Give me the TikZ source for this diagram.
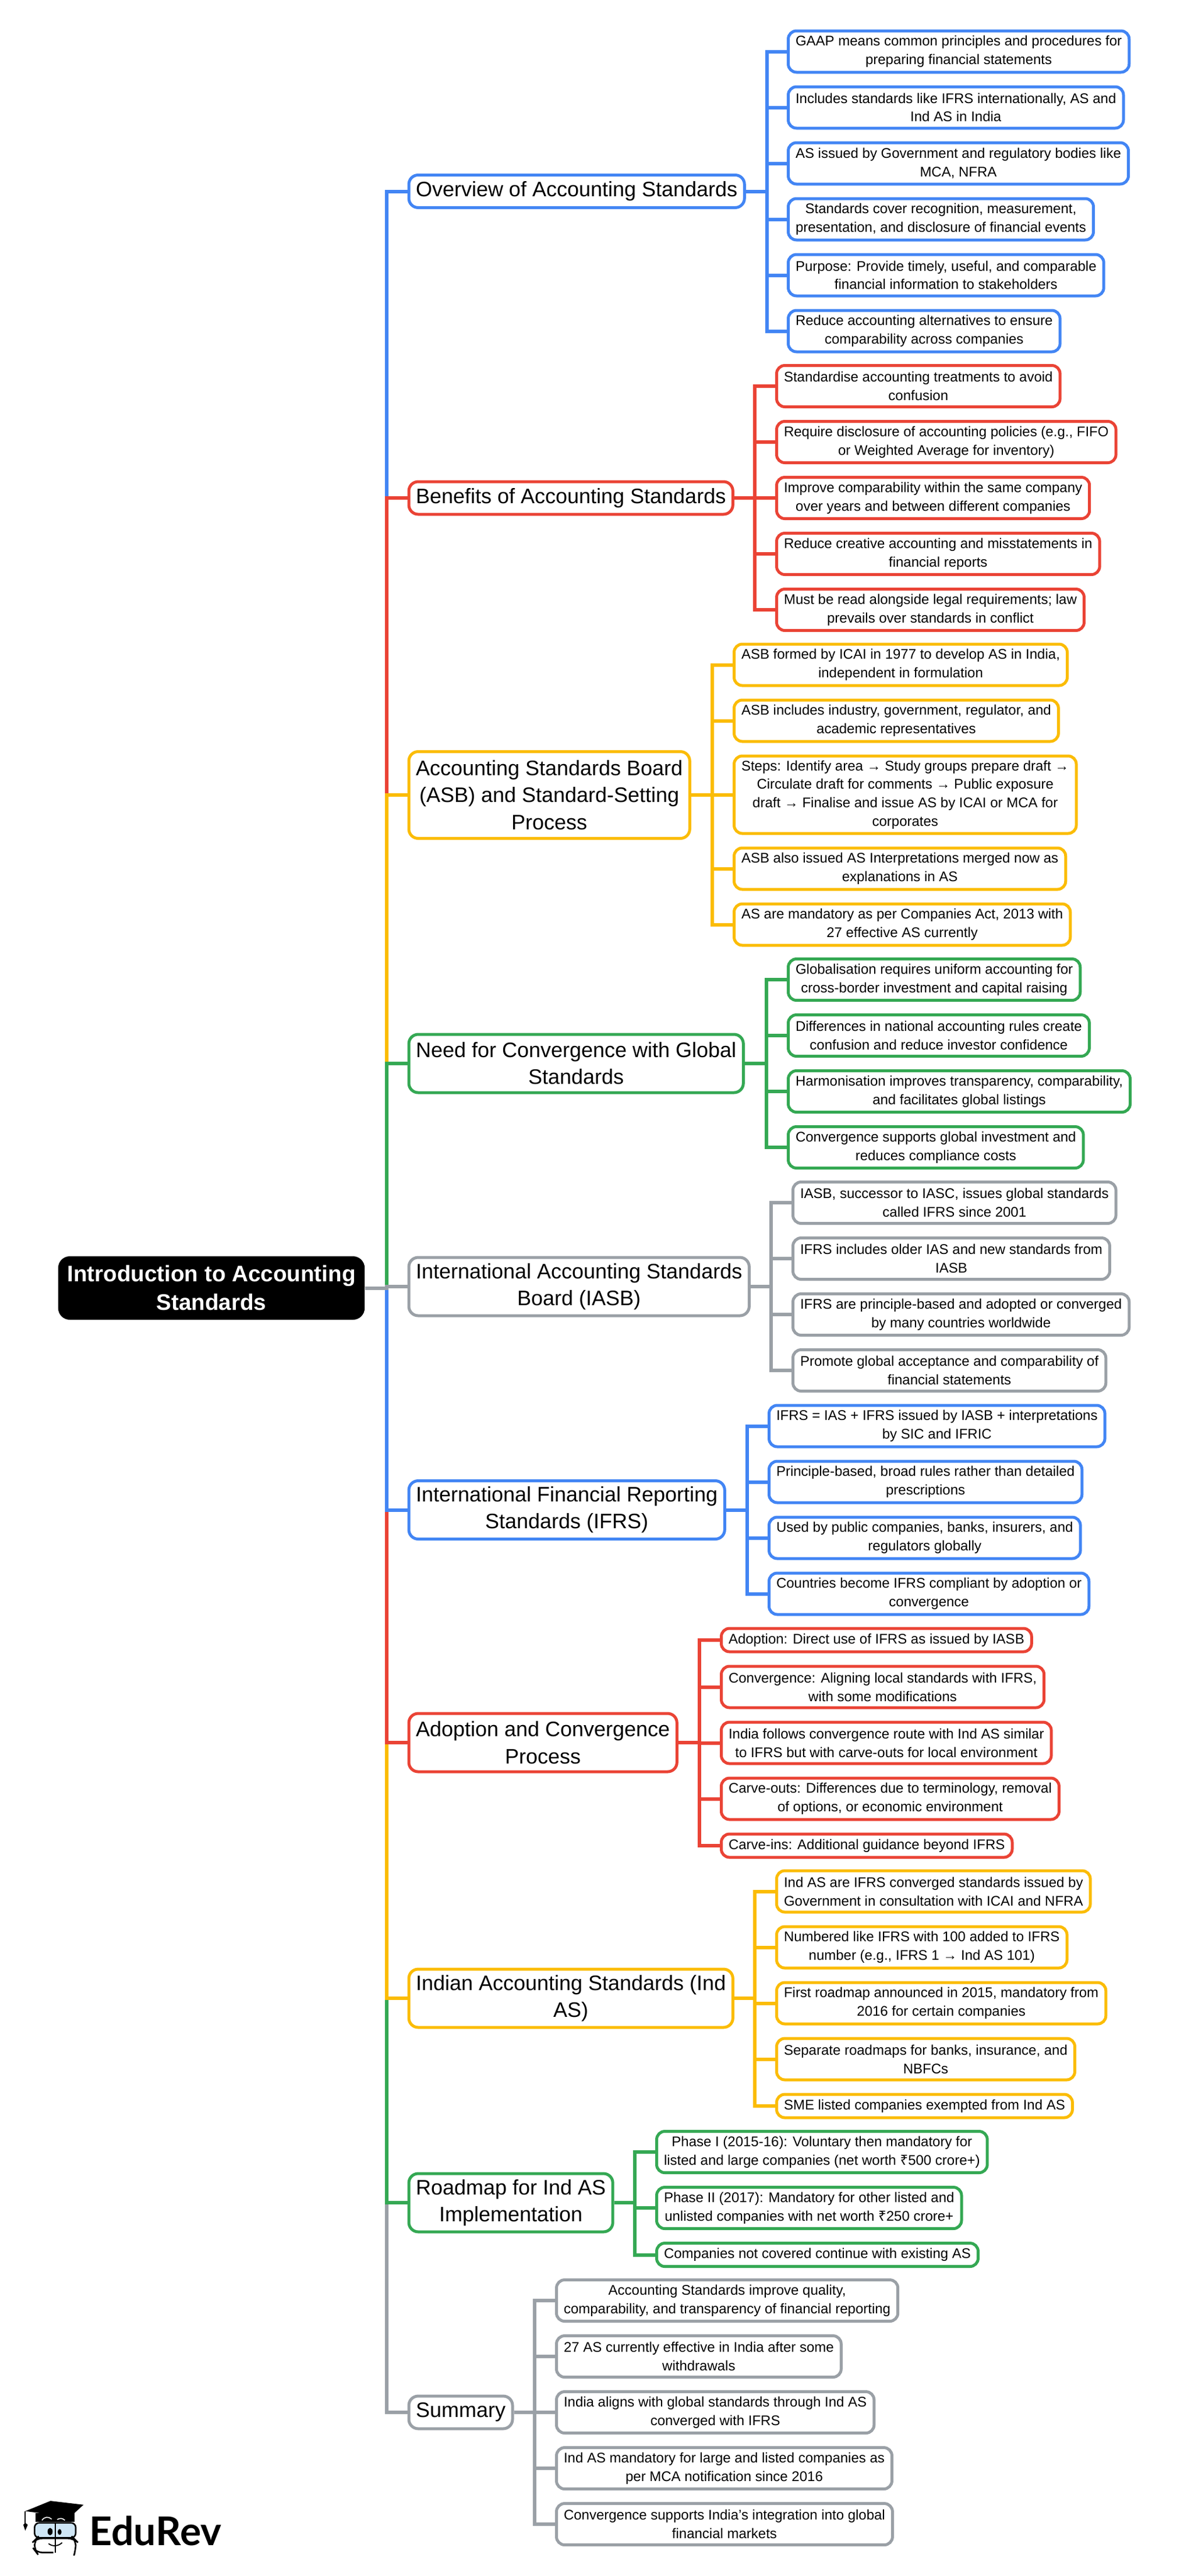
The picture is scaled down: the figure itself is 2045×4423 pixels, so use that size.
\documentclass[tikz,border=0pt]{standalone}
\usepackage{fontspec}
\setmainfont{Liberation Sans}
\newfontfamily\logofont{Lato}
\newfontfamily\rupeefont{Noto Sans}
\usetikzlibrary{positioning}
\definecolor{gblue}{HTML}{4285F4}
\definecolor{gred}{HTML}{EA4335}
\definecolor{gyellow}{HTML}{FBBC05}
\definecolor{ggreen}{HTML}{34A853}
\definecolor{ggray}{HTML}{9AA0A6}
\definecolor{lens}{HTML}{CFE6F5}
\tikzset{
    rootbox/.style = {rectangle, rounded corners=10pt, fill=black, text=white, align=center, inner xsep=7.75pt, inner ysep=0pt, minimum height=54.5pt, font=\fontsize{19.3}{24.5}\selectfont\bfseries},
    mainbox/.style = {rectangle, rounded corners=8pt, draw=#1, line width=2.5pt, fill=white, align=center, inner xsep=6pt, inner ysep=0pt, anchor=west, minimum height=50pt, font=\fontsize{18}{23.1}\selectfont},
    leafbox/.style = {rectangle, rounded corners=7pt, draw=#1, line width=2.5pt, fill=white, align=center, inner xsep=6.25pt, inner ysep=0pt, minimum height=35.5pt, anchor=north west, font=\fontsize{12}{15.9}\selectfont},
    link/.style = {draw=#1, line width=3pt}
}
\begin{document}
\begin{tikzpicture}[x=0.5pt, y=-0.5pt, node distance=10pt]
  \useasboundingbox (0,0) rectangle (2045,4423);

  \node[rootbox] (root) at (363,2211.5) {Introduction to Accounting\\Standards};

  % main topics
  \node[mainbox=gblue, minimum height=28pt] (m1) at (699.5,328.5) {Overview of Accounting Standards};
  \node[mainbox=gred, minimum height=28pt] (m2) at (699.5,855) {Benefits of Accounting Standards};
  \node[mainbox=gyellow, minimum height=74.5pt] (m3) at (699.5,1365) {Accounting Standards Board\\(ASB) and Standard-Setting\\Process};
  \node[mainbox=ggreen] (m4) at (699.5,1826) {Need for Convergence with Global\\Standards};
  \node[mainbox=ggray] (m5) at (699.5,2209) {International Accounting Standards\\Board (IASB)};
  \node[mainbox=gblue] (m6) at (699.5,2592.5) {International Financial Reporting\\Standards (IFRS)};
  \node[mainbox=gred] (m7) at (699.5,2992) {Adoption and Convergence\\Process};
  \node[mainbox=gyellow] (m8) at (699.5,3431) {Indian Accounting Standards (Ind\\AS)};
  \node[mainbox=ggreen] (m9) at (699.5,3782) {Roadmap for Ind AS\\Implementation};
  \node[mainbox=ggray, minimum height=28pt] (m10) at (699.5,4142) {Summary};

  % overview
  \node[leafbox=gblue] (a1) at (1351,50.5) {GAAP means common principles and procedures for\\preparing financial statements};
  \node[leafbox=gblue, below=of a1.south west, anchor=north west] (a2) {Includes standards like IFRS internationally, AS and\\Ind AS in India};
  \node[leafbox=gblue, below=of a2.south west, anchor=north west] (a3) {AS issued by Government and regulatory bodies like\\MCA, NFRA};
  \node[leafbox=gblue, below=of a3.south west, anchor=north west] (a4) {Standards cover recognition, measurement,\\presentation, and disclosure of financial events};
  \node[leafbox=gblue, below=of a4.south west, anchor=north west] (a5) {Purpose: Provide timely, useful, and comparable\\financial information to stakeholders};
  \node[leafbox=gblue, below=of a5.south west, anchor=north west] (a6) {Reduce accounting alternatives to ensure\\comparability across companies};

  % benefits
  \node[leafbox=gred] (b1) at (1331,625) {Standardise accounting treatments to avoid\\confusion};
  \node[leafbox=gred, below=of b1.south west, anchor=north west] (b2) {Require disclosure of accounting policies (e.g., FIFO\\or Weighted Average for inventory)};
  \node[leafbox=gred, below=of b2.south west, anchor=north west] (b3) {Improve comparability within the same company\\over years and between different companies};
  \node[leafbox=gred, below=of b3.south west, anchor=north west] (b4) {Reduce creative accounting and misstatements in\\financial reports};
  \node[leafbox=gred, below=of b4.south west, anchor=north west] (b5) {Must be read alongside legal requirements; law\\prevails over standards in conflict};

  % standard setting
  \node[leafbox=gyellow] (c1) at (1258,1103.5) {ASB formed by ICAI in 1977 to develop AS in India,\\independent in formulation};
  \node[leafbox=gyellow, below=of c1.south west, anchor=north west] (c2) {ASB includes industry, government, regulator, and\\academic representatives};
  \node[leafbox=gyellow, below=of c2.south west, anchor=north west, minimum height=66.5pt] (c3) {Steps: Identify area → Study groups prepare draft →\\Circulate draft for comments → Public exposure\\draft → Finalise and issue AS by ICAI or MCA for\\corporates};
  \node[leafbox=gyellow, below=of c3.south west, anchor=north west] (c4) {ASB also issued AS Interpretations merged now as\\explanations in AS};
  \node[leafbox=gyellow, below=of c4.south west, anchor=north west] (c5) {AS are mandatory as per Companies Act, 2013 with\\27 effective AS currently};

  % convergence need
  \node[leafbox=ggreen] (d1) at (1351,1644) {Globalisation requires uniform accounting for\\cross-border investment and capital raising};
  \node[leafbox=ggreen, below=of d1.south west, anchor=north west] (d2) {Differences in national accounting rules create\\confusion and reduce investor confidence};
  \node[leafbox=ggreen, below=of d2.south west, anchor=north west] (d3) {Harmonisation improves transparency, comparability,\\and facilitates global listings};
  \node[leafbox=ggreen, below=of d3.south west, anchor=north west] (d4) {Convergence supports global investment and\\reduces compliance costs};

  % iasb
  \node[leafbox=ggray] (e1) at (1359,2027) {IASB, successor to IASC, issues global standards\\called IFRS since 2001};
  \node[leafbox=ggray, below=of e1.south west, anchor=north west] (e2) {IFRS includes older IAS and new standards from\\IASB};
  \node[leafbox=ggray, below=of e2.south west, anchor=north west] (e3) {IFRS are principle-based and adopted or converged\\by many countries worldwide};
  \node[leafbox=ggray, below=of e3.south west, anchor=north west] (e4) {Promote global acceptance and comparability of\\financial statements};

  % ifrs
  \node[leafbox=gblue] (f1) at (1318,2410.5) {IFRS = IAS + IFRS issued by IASB + interpretations\\by SIC and IFRIC};
  \node[leafbox=gblue, below=of f1.south west, anchor=north west] (f2) {Principle-based, broad rules rather than detailed\\prescriptions};
  \node[leafbox=gblue, below=of f2.south west, anchor=north west] (f3) {Used by public companies, banks, insurers, and\\regulators globally};
  \node[leafbox=gblue, below=of f3.south west, anchor=north west] (f4) {Countries become IFRS compliant by adoption or\\convergence};

  % adoption
  \node[leafbox=gred, minimum height=20pt] (g1) at (1236,2793.5) {Adoption: Direct use of IFRS as issued by IASB};
  \node[leafbox=gred, below=of g1.south west, anchor=north west] (g2) {Convergence: Aligning local standards with IFRS,\\with some modifications};
  \node[leafbox=gred, below=of g2.south west, anchor=north west] (g3) {India follows convergence route with Ind AS similar\\to IFRS but with carve-outs for local environment};
  \node[leafbox=gred, below=of g3.south west, anchor=north west] (g4) {Carve-outs: Differences due to terminology, removal\\of options, or economic environment};
  \node[leafbox=gred, below=of g4.south west, anchor=north west, minimum height=20pt] (g5) {Carve-ins: Additional guidance beyond IFRS};

  % ind as
  \node[leafbox=gyellow] (h1) at (1331,3209.5) {Ind AS are IFRS converged standards issued by\\Government in consultation with ICAI and NFRA};
  \node[leafbox=gyellow, below=of h1.south west, anchor=north west] (h2) {Numbered like IFRS with 100 added to IFRS\\number (e.g., IFRS 1 → Ind AS 101)};
  \node[leafbox=gyellow, below=of h2.south west, anchor=north west] (h3) {First roadmap announced in 2015, mandatory from\\2016 for certain companies};
  \node[leafbox=gyellow, below=of h3.south west, anchor=north west] (h4) {Separate roadmaps for banks, insurance, and\\NBFCs};
  \node[leafbox=gyellow, below=of h4.south west, anchor=north west, minimum height=20pt] (h5) {SME listed companies exempted from Ind AS};

  % roadmap
  \node[leafbox=ggreen] (i1) at (1125,3657) {Phase I (2015-16): Voluntary then mandatory for\\listed and large companies (net worth {\rupeefont ₹}500 crore+)};
  \node[leafbox=ggreen, below=of i1.south west, anchor=north west] (i2) {Phase II (2017): Mandatory for other listed and\\unlisted companies with net worth {\rupeefont ₹}250 crore+};
  \node[leafbox=ggreen, below=of i2.south west, anchor=north west, minimum height=20pt] (i3) {Companies not covered continue with existing AS};

  % summary
  \node[leafbox=ggray] (j1) at (953,3912) {Accounting Standards improve quality,\\comparability, and transparency of financial reporting};
  \node[leafbox=ggray, below=of j1.south west, anchor=north west] (j2) {27 AS currently effective in India after some\\withdrawals};
  \node[leafbox=ggray, below=of j2.south west, anchor=north west] (j3) {India aligns with global standards through Ind AS\\converged with IFRS};
  \node[leafbox=ggray, below=of j3.south west, anchor=north west] (j4) {Ind AS mandatory for large and listed companies as\\per MCA notification since 2016};
  \node[leafbox=ggray, below=of j4.south west, anchor=north west] (j5) {Convergence supports India's integration into global\\financial markets};

  % trunk, later colours lie over earlier ones
  \foreach \n/\c in {m1/gblue, m2/gred, m3/gyellow, m4/ggreen, m10/ggray, m9/ggreen, m8/gyellow, m7/gred, m6/gblue, m5/ggray}
    \draw[link=\c] (root.east) -| ([xshift=-18pt]\n.west) -- (\n.west);

  % branches
  \foreach \k in {1,...,6}
    \draw[link=gblue] (m1.east) -| ([xshift=-17pt]a\k.west) -- (a\k.west);
  \foreach \k in {1,...,5}
    \draw[link=gred] (m2.east) -| ([xshift=-17.5pt]b\k.west) -- (b\k.west);
  \foreach \k in {1,...,5}
    \draw[link=gyellow] (m3.east) -| ([xshift=-17.5pt]c\k.west) -- (c\k.west);
  \foreach \k in {1,...,4}
    \draw[link=ggreen] (m4.east) -| ([xshift=-17.5pt]d\k.west) -- (d\k.west);
  \foreach \k in {1,...,4}
    \draw[link=ggray] (m5.east) -| ([xshift=-17.5pt]e\k.west) -- (e\k.west);
  \foreach \k in {1,...,4}
    \draw[link=gblue] (m6.east) -| ([xshift=-17.5pt]f\k.west) -- (f\k.west);
  \foreach \k in {1,...,5}
    \draw[link=gred] (m7.east) -| ([xshift=-17.5pt]g\k.west) -- (g\k.west);
  \foreach \k in {1,...,5}
    \draw[link=gyellow] (m8.east) -| ([xshift=-17.5pt]h\k.west) -- (h\k.west);
  \foreach \k in {1,...,3}
    \draw[link=ggreen] (m9.east) -| ([xshift=-17.5pt]i\k.west) -- (i\k.west);
  \foreach \k in {1,...,5}
    \draw[link=ggray] (m10.east) -| ([xshift=-17.5pt]j\k.west) -- (j\k.west);

  % logo
  \begin{scope}[shift={(0,4250)}, x=0.1667pt, y=-0.1667pt]
    \fill (182,195) -- (385,195) -- (385,240) -- (182,240) -- cycle;
    \fill (130,185) -- (260,132) -- (430,152) -- (350,225) -- (270,203) -- cycle;
    \draw[white, line width=0.8pt] (216,232) .. controls (230,212) and (250,212) .. (266,226);
    \draw[white, line width=0.8pt] (295,228) .. controls (308,220) and (322,220) .. (334,232);
    \draw[line width=1pt] (130,185) -- (130,250);
    \fill (120,255) -- (130,245) -- (143,255) -- (130,285) -- cycle;
    \draw[line width=1.3pt, fill=lens, rounded corners=4pt] (178,245) rectangle (390,322);
    \draw[line width=1.3pt, rounded corners=5pt] (275,398) -- (188,398) -- (178,385) -- (178,335) -- (188,325) -- (380,325) -- (390,335) -- (390,385) -- (385,400);
    \draw[line width=1.3pt] (285,245) -- (285,400);
    \fill (258,290) ellipse [x radius=13, y radius=19];
    \fill (307,292) ellipse [x radius=10, y radius=15];
    \draw[line width=0.9pt] (250,352) .. controls (270,368) and (300,366) .. (320,347);
  \end{scope}
  \node[anchor=base west, inner sep=0pt, font=\logofont\fontsize{34}{34}\selectfont\bfseries] (logo) at (153,4370) {EduRev};
\end{tikzpicture}
\end{document}
